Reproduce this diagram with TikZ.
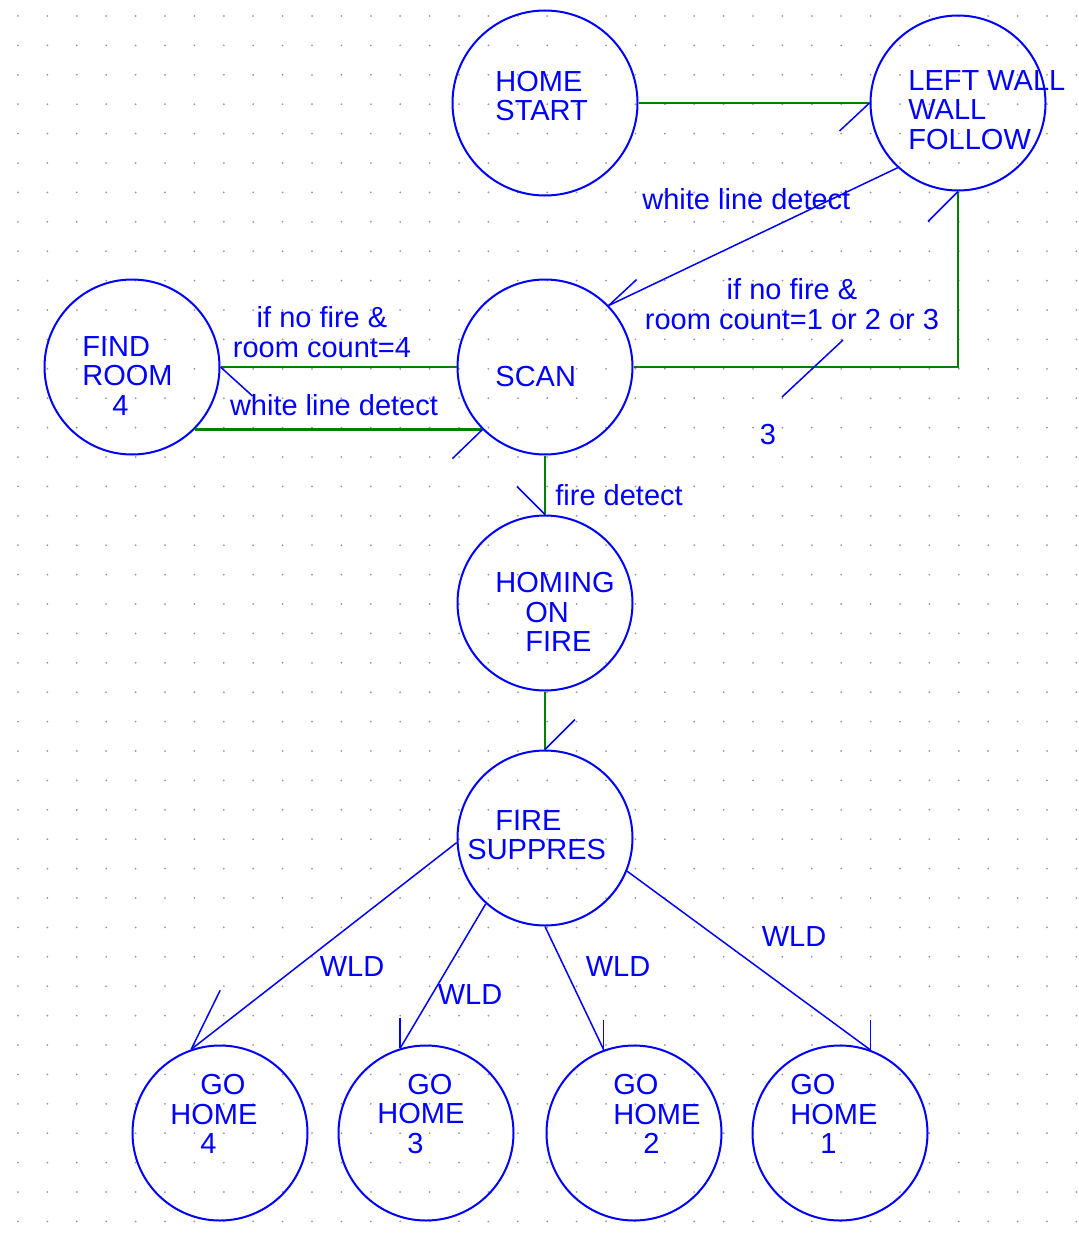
\documentclass[tikz,border=0pt]{standalone}
\usepackage{fontspec}
\setmainfont{Liberation Sans}
\definecolor{stateblue}{RGB}{0,0,255}
\definecolor{wiregreen}{RGB}{0,128,0}
\definecolor{griddot}{RGB}{150,150,150}
\begin{document}
\begin{tikzpicture}[
        x=0.5pt, y=-0.5pt,
        every node/.style={font=\fontsize{14.5}{14.8}\selectfont, text=stateblue},
        state/.style={circle, draw=stateblue, line width=1pt,
            minimum size=87.5pt, inner sep=0pt},
        statetext/.style={align=left, anchor=west, inner sep=0pt},
        edgetext/.style={align=center, inner sep=0pt},
        wire/.style={draw=wiregreen, line width=1.2pt},
        bluewire/.style={draw=stateblue, line width=0.75pt},
        barbline/.style={draw=stateblue, line width=0.75pt}
      ]
      \useasboundingbox (0,0) rectangle (1078,1236);
      \foreach \i in {0,...,36}
        \foreach \j in {0,...,41}
          \fill[griddot] (18+29.4*\i, 16+29.4*\j) circle[radius=1];

      \node[state, minimum size=92.5pt] (home) at (545,103) {};
      \node[state] (leftwall) at (958,103) {};
      \node[state] (findroom) at (132,367) {};
      \node[state] (scan) at (545,367) {};
      \node[state] (homing) at (545,603) {};
      \node[state] (suppres) at (545,838) {};
      \node[state] (gohome4) at (220,1133) {};
      \node[state] (gohome3) at (426,1133) {};
      \node[state] (gohome2) at (634,1133) {};
      \node[state] (gohome1) at (840,1133) {};

      \node[statetext] (hometext) at (495,96) {HOME\\START};
      \node[statetext] (lefttext) at (908,110) {LEFT WALL\\WALL\\FOLLOW};
      \node[statetext] (findtext) at (82,376) {FIND\\ROOM\\\hspace*{15pt}4};
      \node[statetext] (scantext) at (495,377) {SCAN};
      \node[statetext] (homingtext) at (495,612)
      {HOMING\\\hspace*{15pt}ON\\\hspace*{15pt}FIRE};
      \node[statetext] (supprestext) at (467,835) {\hspace*{14pt}FIRE\\SUPPRES};
      \node[statetext] (go4text) at (170,1114) {\hspace*{15pt}GO\\HOME\\\hspace*{15pt}4};
      \node[statetext] (go3text) at (377,1114) {\hspace*{15pt}GO\\HOME\\\hspace*{15pt}3};
      \node[statetext] (go2text) at (613,1114) {GO\\HOME\\\hspace*{15pt}2};
      \node[statetext] (go1text) at (790,1114) {GO\\HOME\\\hspace*{15pt}1};

      \draw[wire] (home.east) -- (leftwall.west);
      \draw[barbline] (leftwall.west) -- ++(-30,28);
      \draw[bluewire] (leftwall.227) -- (scan.44);
      \draw[barbline] (scan.44) -- ++(28,-26);
      \draw[wire] (scan.east) -| (leftwall.south);
      \draw[barbline] (leftwall.south) -- ++(-30,30);
      \coordinate (stubtop) at (843,340);
      \draw[barbline] (stubtop) -- ++(-61,57);
      \draw[wire] (scan.west) -- (findroom.east);
      \draw[barbline] (findroom.east) -- ++(32,29);
      \draw[wire] (findroom.-45) -- (scan.225);
      \draw[barbline] (scan.225) -- ++(-30,29);
      \draw[wire] (scan.south) -- (homing.north);
      \draw[barbline] (homing.north) -- ++(-28,-28);
      \draw[wire] (homing.south) -- (suppres.north);
      \draw[barbline] (suppres.north) -- ++(30,-30);
      \draw[bluewire] (suppres.183) -- (gohome4.109);
      \draw[barbline] (gohome4.109) -- ++(29,-59);
      \draw[bluewire] (suppres.228) -- (gohome3.107);
      \draw[barbline] (gohome3.107) -- ++(0,-30);
      \draw[bluewire] (suppres.south) -- (gohome2.110);
      \draw[barbline] (gohome2.110) -- ++(0,-30);
      \draw[bluewire] (suppres.-22) -- (gohome1.70);
      \draw[barbline] (gohome1.70) -- ++(0,-30);

      \node[edgetext, anchor=west] (wldtop) at (642,199) {white line detect};
      \node[edgetext] (nofire4) at (322,332) {if no fire \&\\room count=4};
      \node[edgetext] (wldleft) at (334,405) {white line detect};
      \node[edgetext] (nofire123) at (792,304) {if no fire \&\\room count=1 or 2 or 3};
      \node[edgetext] (three) at (768,435) {3};
      \node[edgetext, anchor=west] (firedetect) at (555,495) {fire detect};
      \node[edgetext] (wld4) at (352,967) {WLD};
      \node[edgetext] (wld3) at (470,995) {WLD};
      \node[edgetext] (wld2) at (618,967) {WLD};
      \node[edgetext] (wld1) at (794,937) {WLD};
    \end{tikzpicture}
\end{document}
